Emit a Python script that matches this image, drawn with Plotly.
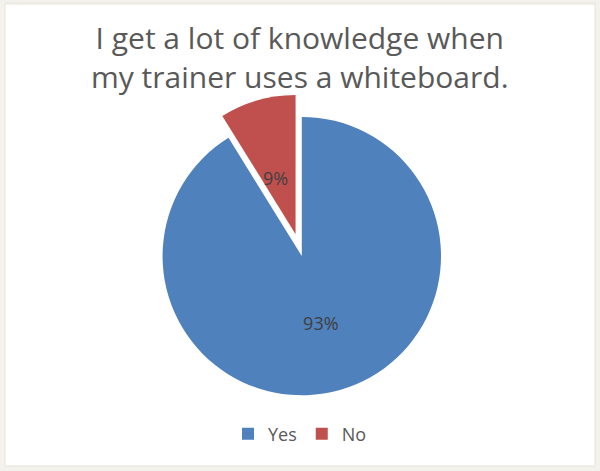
import plotly.graph_objects as go

# Survey responses
labels = ["Yes", "No"]
values = [93, 9]
colors = ["#4F81BD", "#C0504D"]
pulls = [0, 0.163]

title_text = "I get a lot of knowledge when<br>my trainer uses a whiteboard."

W, H = 600, 471
LABEL_FONT = dict(family="Open Sans", size=18, color="#404040")

slice_text = [f"{v}%" for v in values]

fig = go.Figure(
    go.Pie(
        labels=labels,
        values=values,
        marker=dict(colors=colors, line=dict(color="white", width=0)),
        pull=pulls,
        sort=False,
        direction="clockwise",
        rotation=0,
        text=[slice_text[0], ""],
        textinfo="text",
        textposition=["inside", "none"],
        insidetextorientation="horizontal",
        textfont=LABEL_FONT,
        hoverinfo="label+value",
        domain=dict(x=[0.233, 0.773], y=[0.1125, 0.800]),
    )
)

annotations = [
    # chart heading, two lines
    dict(text=title_text, x=0.5, y=1 - 14.5 / H, xref="paper", yref="paper",
         xanchor="center", yanchor="top", showarrow=False,
         font=dict(family="Open Sans", size=30, color="#595959")),
    # label for the small, pulled-out slice
    dict(text=slice_text[1], x=275 / W, y=1 - 178 / H, xref="paper", yref="paper",
         xanchor="center", yanchor="middle", showarrow=False, font=LABEL_FONT),
]

fig.update_layout(
    width=W,
    height=H,
    margin=dict(l=0, r=0, t=0, b=0),
    paper_bgcolor="white",
    annotations=annotations,
    showlegend=True,
    legend=dict(
        orientation="h",
        x=0.5,
        xanchor="center",
        y=1 - 434 / H,
        yanchor="middle",
        font=dict(family="Open Sans", size=18, color="#595959"),
        traceorder="normal",
    ),
    shapes=[
        # outer frame band
        dict(type="rect", xref="paper", yref="paper", x0=0, y0=0, x1=1, y1=1,
             line=dict(color="#F3F2EC", width=10), fillcolor="rgba(0,0,0,0)", layer="below"),
        dict(type="rect", xref="paper", yref="paper",
             x0=5 / W, y0=1 - 466 / H, x1=595 / W, y1=1 - 3 / H,
             line=dict(color="#E6E4DA", width=1), fillcolor="rgba(0,0,0,0)", layer="below"),
    ],
)

fig.write_html("out.html")
